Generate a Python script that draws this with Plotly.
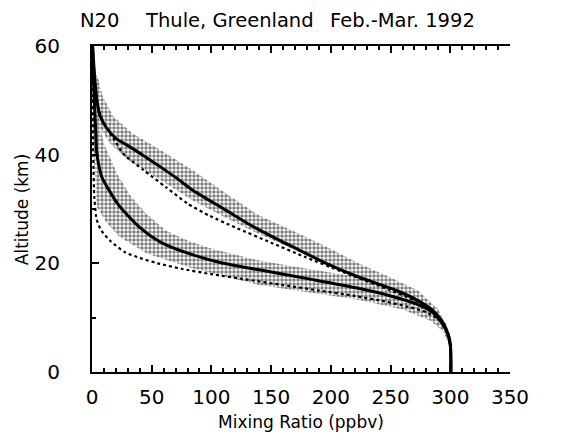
import plotly.graph_objects as go

# Profils N2O (x = rapport de mélange en ppbv, y = altitude en km)
upper_solid_x = [0.5, 2, 4, 7, 12, 20, 29, 42, 57, 72, 84, 99, 112, 133, 150, 173, 196, 223, 255, 274, 287, 294, 298, 300, 300.5, 300.5]
upper_solid_alt = [60, 55, 50, 47, 45, 43, 41.8, 40, 37.8, 35.5, 33.5, 31.5, 29.8, 27, 25, 22.5, 20, 17.5, 15, 13, 11, 9, 7, 5, 3, 0]

upper_dot_x = [0.5, 3, 6, 12, 18, 26, 43, 62, 80, 98, 120, 150, 178, 210, 248, 272, 286, 294, 298, 300]
upper_dot_alt = [60, 52, 48, 45, 43, 40.2, 37.2, 34, 31, 28.8, 26.6, 23.8, 21.2, 18.4, 15.2, 13, 11, 9, 7, 5]

lower_solid_x = [0.5, 1, 2, 3, 4, 8, 15, 22, 30, 40, 50, 62, 84, 108, 140, 185, 223, 250, 272, 285, 293, 298, 300, 300.5]
lower_solid_alt = [60, 55, 50, 45, 40.2, 36, 33.2, 30.8, 28.8, 26.6, 24.9, 23.4, 21.6, 20.1, 18.8, 17, 15.4, 14, 12.5, 11, 9, 7, 5, 0]

lower_dot_x = [0.3, 1, 2, 4, 8, 16, 28, 40, 55, 75, 100, 130, 160, 190, 220, 245, 265, 280, 288, 294, 298, 300]
lower_dot_alt = [60, 40, 32, 28, 26, 24, 22, 21, 20, 19, 18, 17, 16, 15, 14, 13, 12, 11, 10, 9, 7, 5]

# Enveloppes (zones grisées)
upper_band_hi_x = [1, 5, 9, 18, 34, 57, 84, 112, 140, 168, 195, 223, 250, 273, 290, 298, 302, 301]
upper_band_hi_alt = [56, 54, 50.7, 47, 43.9, 40.9, 37.2, 32.9, 28.8, 26, 23.2, 20, 17.4, 15, 11.5, 8, 5, 3]
upper_band_lo_x = [0.5, 1, 4, 15, 29, 57, 84, 112, 140, 170, 200, 230, 255, 275, 290, 297, 299]
upper_band_lo_alt = [55, 52, 45.8, 42.1, 39.2, 35.4, 31.6, 28.4, 25.4, 22.4, 19.4, 16.4, 13.8, 11.4, 9.2, 7, 5]

lower_band_hi_x = [1.5, 4, 10, 21, 32, 45, 62, 80, 98, 140, 180, 223, 260, 285, 296, 301, 301]
lower_band_hi_alt = [52, 48, 42, 36.5, 32.5, 29.2, 26, 24.2, 22.8, 20.5, 19, 17.5, 15, 12, 9, 6, 3]
lower_band_lo_x = [0.5, 1, 2, 4, 12, 23, 46, 84, 140, 223, 260, 283, 294, 299, 300]
lower_band_lo_alt = [52, 45, 38, 30.4, 27.5, 24.9, 21.8, 19.1, 16, 13.3, 11.5, 9.5, 7.5, 5, 3]

x_ticks = [0, 50, 100, 150, 200, 250, 300, 350]
y_ticks = [0, 20, 40, 60]

font_fam = "DejaVu Sans"


def band(hi_x, hi_alt, lo_x, lo_alt):
    return go.Scatter(x=hi_x + lo_x[::-1], y=hi_alt + lo_alt[::-1], fill="toself", mode="none",
                      fillcolor="rgba(0,0,0,0)",
                      fillpattern=dict(shape=".", fgcolor="black", bgcolor="white", size=4, solidity=0.6),
                      hoverinfo="skip", showlegend=False)


fig = go.Figure()
fig.add_trace(band(upper_band_hi_x, upper_band_hi_alt, upper_band_lo_x, upper_band_lo_alt))
fig.add_trace(band(lower_band_hi_x, lower_band_hi_alt, lower_band_lo_x, lower_band_lo_alt))

for xs, ys, dash, w in [(upper_dot_x, upper_dot_alt, "dot", 2.2),
                        (lower_dot_x, lower_dot_alt, "dot", 2.2),
                        (upper_solid_x, upper_solid_alt, "solid", 3),
                        (lower_solid_x, lower_solid_alt, "solid", 3)]:
    fig.add_trace(go.Scatter(x=xs, y=ys, mode="lines", line=dict(color="black", width=w, dash=dash, shape="spline", smoothing=0.6),
                             showlegend=False))

# titre en trois morceaux (espacement large)
for txt, xp in [("N20", -0.033), ("Thule, Greenland", 0.122), ("Feb.-Mar. 1992", 0.565)]:
    fig.add_annotation(text=txt, xref="paper", yref="paper", x=xp, y=1.077, xanchor="left", yanchor="middle",
                       showarrow=False, font=dict(family=font_fam, size=19.5, color="black"))

# titres des axes
fig.add_annotation(text="Mixing Ratio (ppbv)", xref="paper", yref="paper", x=0.499, y=-0.153,
                   xanchor="center", yanchor="middle", showarrow=False, font=dict(family=font_fam, size=17))
fig.add_annotation(text="Altitude (km)", xref="paper", yref="paper", x=-0.167, y=0.5, textangle=-90,
                   xanchor="center", yanchor="middle", showarrow=False, font=dict(family=font_fam, size=17))

# la page a une marge de 8 px : figure 556x425
fig.update_layout(
    width=556, height=425,
    margin=dict(l=84, r=54, t=38, b=61),
    paper_bgcolor="white", plot_bgcolor="white",
    font=dict(family=font_fam, size=20, color="black"),
    xaxis=dict(range=[0, 350], tickvals=x_ticks, ticks="inside", ticklen=7, tickwidth=1.5, tickcolor="black",
               minor=dict(dtick=10, ticks="inside", ticklen=4, tickcolor="black"),
               showline=True, linecolor="black", linewidth=2, mirror="allticks", showgrid=False, zeroline=False,
               ticklabelstandoff=6, automargin=False),
    yaxis=dict(range=[0, 60], tickvals=y_ticks, ticks="inside", ticklen=7, tickwidth=1.5, tickcolor="black",
               minor=dict(dtick=10, ticks="inside", ticklen=4, tickcolor="black"),
               showline=True, linecolor="black", linewidth=2, showgrid=False, zeroline=False,
               ticklabelstandoff=26, automargin=False),
)

fig.write_html("out.html")
